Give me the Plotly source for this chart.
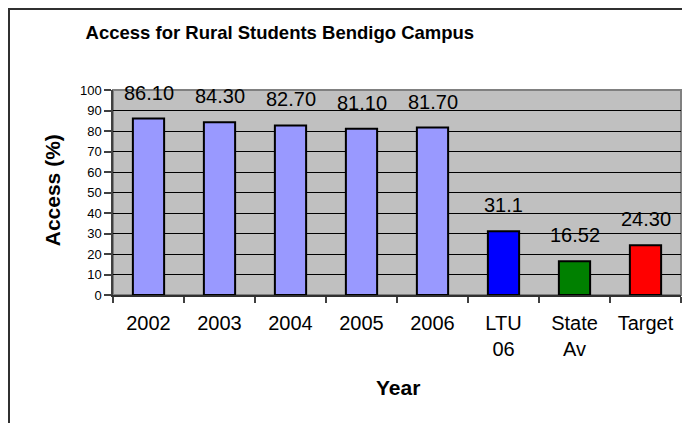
import plotly.graph_objects as go

categories = ["2002", "2003", "2004", "2005", "2006", "LTU<br>06", "State<br>Av", "Target"]
values = [86.10, 84.30, 82.70, 81.10, 81.70, 31.1, 16.52, 24.30]
value_labels = ["86.10", "84.30", "82.70", "81.10", "81.70", "31.1", "16.52", "24.30"]
bar_colors = ["#9999FF", "#9999FF", "#9999FF", "#9999FF", "#9999FF", "#0000FF", "#008000", "#FF0000"]
y_ticks = [0, 10, 20, 30, 40, 50, 60, 70, 80, 90, 100]

FONT = "Liberation Sans, Arial, sans-serif"

fig = go.Figure()
fig.add_trace(go.Bar(
    x=categories, y=values,
    marker=dict(color=bar_colors, line=dict(color="black", width=2)),
    hoverinfo="skip",
))

for i, (v, t) in enumerate(zip(values, value_labels)):
    fig.add_annotation(x=i, y=v, text=t, showarrow=False, yshift=26,
                       xanchor="center", yanchor="middle",
                       font=dict(family=FONT, size=20, color="black"))

fig.add_annotation(xref="paper", yref="paper", x=0.502, y=-0.449, text="<b>Year</b>",
                   showarrow=False, xanchor="center", yanchor="middle",
                   font=dict(family=FONT, size=21, color="black"))
fig.add_annotation(xref="paper", yref="paper", x=-0.107, y=0.512, text="<b>Access (%)</b>",
                   showarrow=False, textangle=-90, xanchor="center", yanchor="middle",
                   font=dict(family=FONT, size=21, color="black"))

# outer chart frame (extends past the right and bottom edges)
fig.add_shape(type="rect", xref="paper", yref="paper", x0=-0.1831, y0=-2, x1=2, y1=1.395,
              line=dict(color="#303030", width=2), fillcolor="rgba(0,0,0,0)", layer="above")
# plot-area border
fig.add_shape(type="rect", xref="paper", yref="paper", x0=0, y0=0, x1=1, y1=1,
              line=dict(color="#808080", width=2), fillcolor="rgba(0,0,0,0)", layer="below")

fig.update_layout(
    width=690, height=423,
    margin=dict(l=105, r=17, t=82, b=136),
    paper_bgcolor="white", plot_bgcolor="#C0C0C0",
    bargap=0.56, showlegend=False,
    title=dict(text="<b>Access for Rural Students Bendigo Campus</b>", x=0.394, y=0.941,
               xanchor="center", yanchor="middle",
               font=dict(family=FONT, size=18.5, color="black")),
    xaxis=dict(type="category", tickson="boundaries", ticks="outside", ticklen=6,
               tickcolor="#404040", tickwidth=1.5, showline=True, linecolor="#303030", linewidth=2,
               showgrid=False, tickangle=0, ticklabelstandoff=9,
               tickfont=dict(family=FONT, size=20, color="black")),
    yaxis=dict(range=[0, 100], tickvals=y_ticks, ticks="outside", ticklen=7,
               tickcolor="#404040", tickwidth=1.5, showline=True, linecolor="#404040", linewidth=1.5,
               showgrid=True, gridcolor="black", gridwidth=1, zeroline=False,
               tickfont=dict(family=FONT, size=13, color="black")),
)

fig.write_html("out.html")
